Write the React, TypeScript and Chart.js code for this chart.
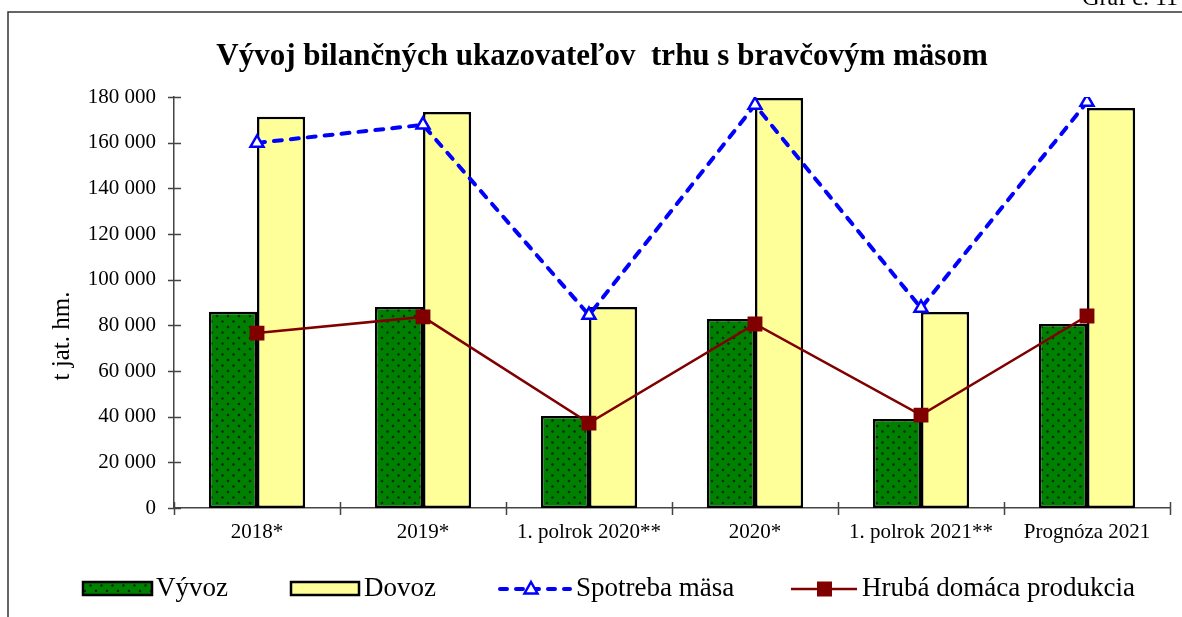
import React, { useEffect, useRef } from "react";
import { Chart, registerables } from "chart.js";

Chart.register(...registerables);

const categories = ["2018*", "2019*", "1. polrok 2020**", "2020*", "1. polrok 2021**", "Prognóza 2021"];
const vyvoz = [86000, 88000, 40300, 82800, 39000, 80600];
const dovoz = [171300, 173400, 88000, 179600, 85800, 175200];
const spotreba = [159900, 167800, 84500, 176500, 87600, 177800];
const hruba = [76600, 83700, 37200, 80600, 40700, 84100];
const seriesNames = ["Vývoz", "Dovoz", "Spotreba mäsa", "Hrubá domáca produkcia"];
const yMin = 0;
const yMax = 180000;
const yStep = 20000;
const chartTitle = "Vývoj bilančných ukazovateľov  trhu s bravčovým mäsom";
const yTitle = "t jat. hm.";
const cornerLabel = "Graf č. 11";

const SERIF = "'Liberation Serif', 'Times New Roman', serif";

function fmt(v: number): string {
  return Math.round(v).toString().replace(/\B(?=(\d{3})+(?!\d))/g, " ");
}

function makePattern(): CanvasPattern | string {
  const c = document.createElement("canvas");
  c.width = 11;
  c.height = 11;
  const x = c.getContext("2d");
  if (!x) return "#008000";
  x.fillStyle = "#008000";
  x.fillRect(0, 0, 11, 11);
  x.fillStyle = "#0a2a0a";
  x.beginPath();
  x.arc(2.5, 2.5, 1.3, 0, Math.PI * 2);
  x.arc(8, 8, 1.3, 0, Math.PI * 2);
  x.fill();
  const ctx = document.createElement("canvas").getContext("2d");
  const p = ctx ? ctx.createPattern(c, "repeat") : null;
  return p || "#008000";
}

export default function App() {
  const ref = useRef<HTMLCanvasElement | null>(null);

  useEffect(() => {
    const canvas = ref.current;
    if (!canvas) return;
    const pattern = makePattern();

    const decor = {
      id: "decor",
      afterDraw(chart: any) {
        const ctx: CanvasRenderingContext2D = chart.ctx;
        const area = chart.chartArea;
        const ys = chart.scales.y;
        ctx.save();
        // frame
        ctx.strokeStyle = "#333";
        ctx.lineWidth = 1.5;
        ctx.beginPath();
        ctx.moveTo(8, 617);
        ctx.lineTo(8, 12);
        ctx.lineTo(1182, 12);
        ctx.stroke();
        // corner label
        ctx.fillStyle = "#000";
        ctx.font = `24px ${SERIF}`;
        ctx.textAlign = "right";
        ctx.textBaseline = "alphabetic";
        ctx.fillText(cornerLabel, 1178, 5);
        // title
        ctx.font = `bold 31px ${SERIF}`;
        ctx.textAlign = "center";
        ctx.textBaseline = "middle";
        ctx.fillText(chartTitle, 602, 57);
        // y title
        ctx.save();
        ctx.translate(62, 336);
        ctx.rotate(-Math.PI / 2);
        ctx.font = `25px ${SERIF}`;
        ctx.fillText(yTitle, 0, 0);
        ctx.restore();
        // axis tick marks (crossing)
        ctx.strokeStyle = "#444";
        ctx.lineWidth = 1.5;
        ctx.beginPath();
        for (let v = yMin; v <= yMax; v += yStep) {
          const py = Math.round(ys.getPixelForValue(v)) + 0.5;
          ctx.moveTo(area.left - 6, py);
          ctx.lineTo(area.left + 7, py);
        }
        const n = categories.length;
        for (let i = 0; i <= n; i++) {
          const px = Math.round(area.left + ((area.right - area.left) * i) / n) + 0.5;
          ctx.moveTo(px, area.bottom - 6);
          ctx.lineTo(px, area.bottom + 7);
        }
        ctx.stroke();
        // legend
        const ly = 589;
        ctx.font = `27px ${SERIF}`;
        ctx.textAlign = "left";
        ctx.textBaseline = "middle";
        ctx.lineWidth = 2.5;
        ctx.strokeStyle = "#000";
        ctx.fillStyle = pattern as any;
        ctx.fillRect(83, 582, 69, 13);
        ctx.strokeRect(83, 582, 69, 13);
        ctx.fillStyle = "#000";
        ctx.fillText(seriesNames[0], 156, ly);
        ctx.fillStyle = "#FFFF99";
        ctx.fillRect(291, 582, 68, 13);
        ctx.strokeRect(291, 582, 68, 13);
        ctx.fillStyle = "#000";
        ctx.fillText(seriesNames[1], 364, ly);
        // spotreba
        ctx.strokeStyle = "#0000FF";
        ctx.lineWidth = 4;
        ctx.lineCap = "round";
        ctx.setLineDash([7, 9]);
        ctx.beginPath();
        ctx.moveTo(500, ly);
        ctx.lineTo(570, ly);
        ctx.stroke();
        ctx.setLineDash([]);
        ctx.lineCap = "butt";
        ctx.lineWidth = 2.5;
        ctx.fillStyle = "#fff";
        ctx.beginPath();
        ctx.moveTo(531, ly - 7);
        ctx.lineTo(537.5, ly + 4.5);
        ctx.lineTo(524.5, ly + 4.5);
        ctx.closePath();
        ctx.fill();
        ctx.stroke();
        ctx.fillStyle = "#000";
        ctx.fillText(seriesNames[2], 576, ly);
        // hruba
        ctx.strokeStyle = "#800000";
        ctx.lineWidth = 2.5;
        ctx.beginPath();
        ctx.moveTo(791, ly);
        ctx.lineTo(857, ly);
        ctx.stroke();
        ctx.fillStyle = "#800000";
        ctx.fillRect(817, ly - 7.5, 15, 15);
        ctx.fillStyle = "#000";
        ctx.fillText(seriesNames[3], 862, ly);
        ctx.restore();
      },
    };

    const chart = new Chart(canvas, {
      type: "bar",
      data: {
        labels: categories,
        datasets: [
          {
            type: "bar",
            label: seriesNames[0],
            data: vyvoz,
            backgroundColor: pattern as any,
            borderColor: "#000",
            borderWidth: 2.5,
            borderSkipped: false,
            order: 3,
          },
          {
            type: "bar",
            label: seriesNames[1],
            data: dovoz,
            backgroundColor: "#FFFF99",
            borderColor: "#000",
            borderWidth: 2.5,
            borderSkipped: false,
            order: 3,
          },
          {
            type: "line",
            label: seriesNames[2],
            data: spotreba,
            borderColor: "#0000FF",
            borderWidth: 4,
            borderDash: [8, 9],
            borderCapStyle: "round",
            pointStyle: "triangle",
            pointRadius: 7.5,
            pointBorderWidth: 2.5,
            pointBackgroundColor: "#fff",
            pointBorderColor: "#0000FF",
            order: 1,
          } as any,
          {
            type: "line",
            label: seriesNames[3],
            data: hruba,
            borderColor: "#800000",
            borderWidth: 2.5,
            pointStyle: "rect",
            pointRadius: 10.5,
            pointBorderWidth: 0,
            pointBackgroundColor: "#800000",
            pointBorderColor: "#800000",
            order: 2,
          } as any,
        ],
      },
      options: {
        responsive: false,
        animation: false,
        devicePixelRatio: 1,
        layout: { padding: { left: 0, top: 97, right: 12, bottom: 0 } },
        datasets: { bar: { categoryPercentage: 0.58, barPercentage: 1 } },
        plugins: { legend: { display: false }, tooltip: { enabled: false }, title: { display: false } },
        scales: {
          x: {
            grid: { display: false, drawTicks: false },
            border: { display: true, color: "#444", width: 1.5 },
            ticks: { color: "#000", font: { family: SERIF, size: 21 }, padding: 12, maxRotation: 0, autoSkip: false },
            afterFit: (s: any) => {
              s.height = 109;
            },
          },
          y: {
            min: yMin,
            max: yMax,
            grid: { display: false, drawTicks: false },
            border: { display: true, color: "#444", width: 1.5 },
            ticks: {
              stepSize: yStep,
              color: "#000",
              font: { family: SERIF, size: 21 },
              padding: 18,
              callback: (v: any) => fmt(Number(v)),
            },
            afterFit: (s: any) => {
              s.width = 174;
            },
          },
        },
      },
      plugins: [decor],
    });
    return () => chart.destroy();
  }, []);

  return (
    <div style={{ position: "fixed", left: 0, top: 0, width: 1182, height: 617, background: "#fff" }}>
      <canvas ref={ref} width={1182} height={617} style={{ display: "block" }} />
    </div>
  );
}
